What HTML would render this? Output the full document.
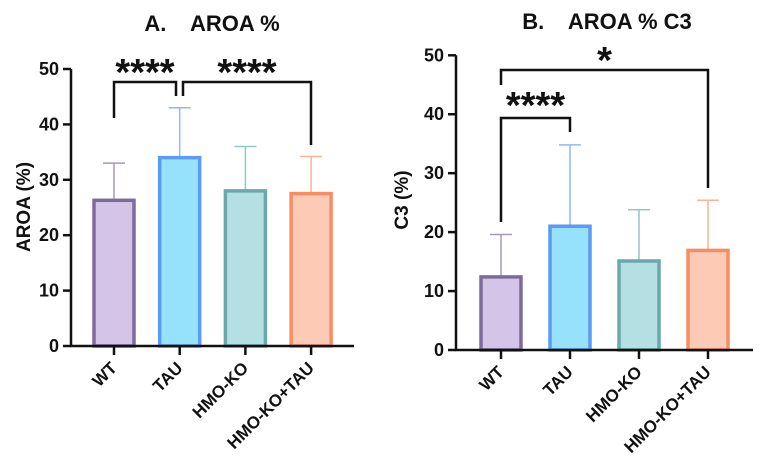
<!DOCTYPE html>
<html><head><meta charset="utf-8"><style>
html,body{margin:0;padding:0;background:#fff;}
svg{display:block;font-family:"Liberation Sans",Arial,sans-serif;font-weight:bold;}
text{white-space:pre;}
</style></head><body>
<svg id="chart" width="763" height="476" viewBox="0 0 763 476" xmlns="http://www.w3.org/2000/svg"></svg>
<script>
const categories = ["WT","TAU","HMO-KO","HMO-KO+TAU"];
const aroaValues = [26.3, 34, 28, 27.5];
const aroaErrors = [33, 43, 36, 34.2];
const c3Values = [12.4, 21, 15.1, 16.9];
const c3Errors = [19.6, 34.8, 23.8, 25.4];
const yTicks = [0,10,20,30,40,50];
const fills = ["#d3c4e8","#96e2fc","#b5e0e3","#fdcbb5"];
const strokes = ["#7e6b9e","#5b9bf5","#6aa8ab","#f78d62"];
const errColors = ["#a898c0","#8fb8f8","#96c6c8","#f9b396"];

const svg = document.getElementById('chart');
const NS = "http://www.w3.org/2000/svg";
function mk(tag, attrs, parent){ const e=document.createElementNS(NS,tag); for(const k in attrs) e.setAttribute(k,attrs[k]); (parent||svg).appendChild(e); return e; }

function panel(cfg){
  const g = mk('g',{});
  
  
  const y = v => cfg.y0 - v*(cfg.y0-cfg.y50)/50;
  const x = i => cfg.xs[0] + i*(cfg.xs[1]-cfg.xs[0]);
  const t = mk('text',{x:cfg.titleX,y:cfg.titleY,'text-anchor':'middle','font-size':22,fill:'#111'},g);
  t.textContent = cfg.title;
  
  
  const yl = mk('text',{transform:`translate(${cfg.ylabX},${cfg.ylabY}) rotate(-90)`,'text-anchor':'middle','font-size':19,fill:'#111'},g);
  yl.textContent = cfg.ylabel;
  
  
  cfg.values.forEach((v,i)=>{
    const cx = x(i), top=y(v), eTop=y(cfg.errs[i]);
    const el = mk('line',{x1:cx,x2:cx,y1:top,y2:eTop,stroke:errColors[i],'stroke-width':1.5},g);
    
    
    const ec = mk('line',{x1:cx-11,x2:cx+11,y1:eTop,y2:eTop,stroke:errColors[i],'stroke-width':1.5},g);
    
    
    const r = mk('rect',{x:cx-20,y:top,width:40,height:cfg.y0-top,fill:fills[i],stroke:strokes[i],'stroke-width':3.5},g);
    
    
  });
  const ya = mk('line',{x1:cfg.xAxis0,x2:cfg.xAxis0,y1:cfg.y50,y2:cfg.y0+1,stroke:'#111','stroke-width':2.5},g);
  
  
  const xa = mk('line',{x1:cfg.xAxis0-1,x2:cfg.xAxis1,y1:cfg.y0,y2:cfg.y0,stroke:'#111','stroke-width':2.5},g);
  
  
  yTicks.forEach(v=>{
    mk('line',{x1:cfg.xAxis0-8,x2:cfg.xAxis0,y1:y(v),y2:y(v),stroke:'#111','stroke-width':2.5},g);
    const tl = mk('text',{x:cfg.xAxis0-12,y:y(v)+6,'text-anchor':'end','font-size':18,fill:'#111'},g);
    tl.textContent = v;
    
    
  });
  categories.forEach((c,i)=>{
    const cx=x(i);
    mk('line',{x1:cx,x2:cx,y1:cfg.y0,y2:cfg.y0+9,stroke:'#111','stroke-width':2.5},g);
    const tl = mk('text',{transform:`translate(${cx+4},${cfg.y0+23}) rotate(-45)`,'text-anchor':'end','font-size':17,fill:'#111'},g);
    tl.textContent = c;
    
    
  });
  cfg.brackets.forEach(b=>{
    const p = mk('path',{d:`M${b.x1},${b.l1} V${b.top} H${b.x2} V${b.l2}`,fill:'none',stroke:'#111','stroke-width':2.5},g);
    
    
    const s = mk('text',{x:(b.x1+b.x2)/2,y:b.top-b.sOff,'text-anchor':'middle','font-size':38,fill:'#111'},g);
    s.textContent = b.stars;
    
    
  });
}

panel({name:'panel-a-aroa',title:'A.    AROA %',titleX:212,titleY:31,ylabel:'AROA (%)',ylabX:30,ylabY:207,
  y0:346,y50:69,xs:[114,179.7],xAxis0:71,xAxis1:354,values:aroaValues,errs:aroaErrors,
  brackets:[{x1:114,x2:176,top:82,l1:118,l2:96,stars:'****',sOff:-3},
            {x1:183,x2:311,top:82,l1:96,l2:145,stars:'****',sOff:-3}]});
panel({name:'panel-b-c3',title:'B.    AROA % C3',titleX:607,titleY:29,ylabel:'C3 (%)',ylabX:408,ylabY:200,
  y0:350,y50:55.3,xs:[501,570],xAxis0:456,xAxis1:753,values:c3Values,errs:c3Errors,
  brackets:[{x1:501,x2:708,top:70,l1:85,l2:188,stars:'*',sOff:-3},
            {x1:501,x2:570,top:118,l1:222,l2:132,stars:'****',sOff:0}]});
</script>
</body></html>
